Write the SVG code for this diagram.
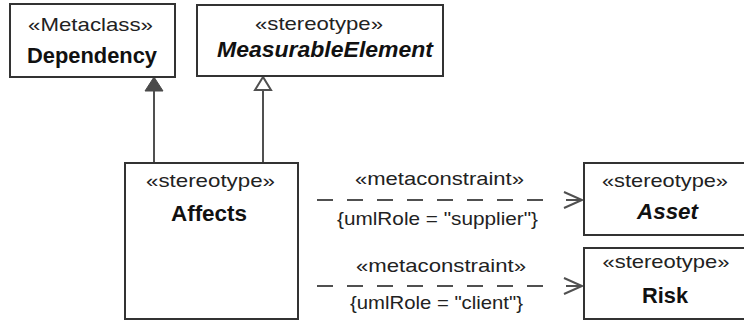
<svg xmlns="http://www.w3.org/2000/svg" width="744" height="321" viewBox="0 0 744 321">
<style>
.box{fill:#fff;stroke:#333;stroke-width:2}
.st{font-family:"Liberation Sans",Arial,sans-serif;font-size:19px;fill:#222;text-anchor:middle}
.nm{font-family:"Liberation Sans",Arial,sans-serif;font-size:22px;font-weight:bold;fill:#111;text-anchor:middle}
.it{font-style:italic}
.ln{stroke:#505050;stroke-width:2;fill:none}
.dash{stroke:#505050;stroke-width:2;fill:none;stroke-dasharray:16 14}
</style>
<rect width="744" height="321" fill="#fff"/>
<g id="connectors">
<line class="ln" x1="154" y1="90" x2="154" y2="163"/>
<polygon points="154,77 145,91 163,91" fill="#4a4a4a" stroke="#4a4a4a" stroke-width="1"/>
<line class="ln" x1="263" y1="90" x2="263" y2="163"/>
<polygon points="263,77 255,90 271,90" fill="#fff" stroke="#505050" stroke-width="2"/>
<g id="c1">
<line class="dash" x1="317" y1="200" x2="557" y2="200"/>
<polyline class="ln" points="564,192 582,200 564,208"/>
<line class="ln" x1="566" y1="200" x2="582" y2="200"/>
<text class="st" x="439.5" y="185" textLength="169" lengthAdjust="spacingAndGlyphs">«metaconstraint»</text>
<text class="st" x="437.5" y="225" textLength="201" lengthAdjust="spacingAndGlyphs">{umlRole = "supplier"}</text>
</g>
<g id="c2">
<line class="dash" x1="317" y1="286" x2="557" y2="286"/>
<polyline class="ln" points="564,278 582,286 564,294"/>
<line class="ln" x1="566" y1="286" x2="582" y2="286"/>
<text class="st" x="441" y="272" textLength="170" lengthAdjust="spacingAndGlyphs">«metaconstraint»</text>
<text class="st" x="436.5" y="309" textLength="173" lengthAdjust="spacingAndGlyphs">{umlRole = "client"}</text>
</g>
</g>
<g id="Dependency">
<rect class="box" x="10" y="4" width="165" height="73"/>
<text class="st" x="90.5" y="31" textLength="125" lengthAdjust="spacingAndGlyphs">«Metaclass»</text>
<text class="nm" x="92" y="63" textLength="130" lengthAdjust="spacingAndGlyphs">Dependency</text>
</g>
<g id="MeasurableElement">
<rect class="box" x="197" y="5" width="246" height="71"/>
<text class="st" x="319" y="30" textLength="128" lengthAdjust="spacingAndGlyphs">«stereotype»</text>
<text class="nm it" x="325" y="57" textLength="216" lengthAdjust="spacingAndGlyphs">MeasurableElement</text>
</g>
<g id="Affects">
<rect class="box" x="125" y="163" width="173" height="156"/>
<text class="st" x="210.5" y="187" textLength="129" lengthAdjust="spacingAndGlyphs">«stereotype»</text>
<text class="nm" x="209" y="221" textLength="76" lengthAdjust="spacingAndGlyphs">Affects</text>
</g>
<g id="Asset">
<rect class="box" x="584" y="163" width="170" height="72"/>
<text class="st" x="665" y="187" textLength="126" lengthAdjust="spacingAndGlyphs">«stereotype»</text>
<text class="nm it" x="667.5" y="219" textLength="61" lengthAdjust="spacingAndGlyphs">Asset</text>
</g>
<g id="Risk">
<rect class="box" x="584" y="248" width="170" height="71"/>
<text class="st" x="666" y="268" textLength="127" lengthAdjust="spacingAndGlyphs">«stereotype»</text>
<text class="nm" x="665" y="303" textLength="46" lengthAdjust="spacingAndGlyphs">Risk</text>
</g>
</svg>
